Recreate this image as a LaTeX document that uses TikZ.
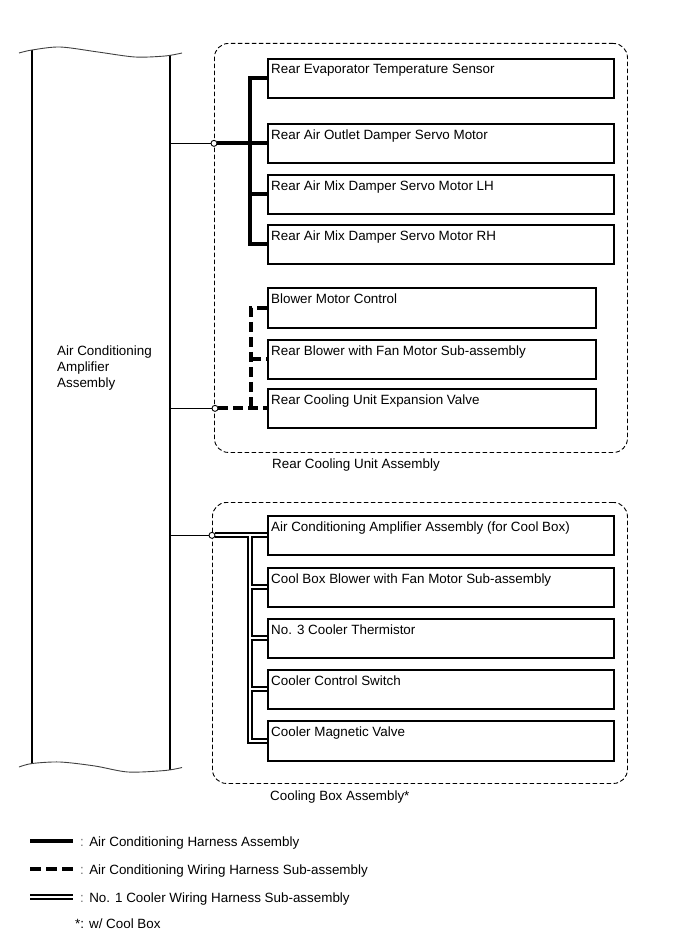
\documentclass[tikz,border=0pt]{standalone}
\usepackage{fontspec}
\setmainfont{Liberation Sans}
\usetikzlibrary{calc,backgrounds}
\begin{document}
\begin{tikzpicture}[x=1pt,y=-1pt,
  font=\fontsize{13.4}{16}\selectfont,
  devbox/.style={draw, line width=1.7pt, minimum width=#1, minimum height=39pt, anchor=north west, inner sep=0pt},
  devbox/.default=346,
  lbl/.style={anchor=base west, inner sep=0pt},
  jn/.style={circle, draw, fill=white, line width=0.9pt, inner sep=0pt, minimum size=6pt},
  harness/.style={line width=4pt},
  wiring/.style={line width=4pt, dash pattern=on 10pt off 5pt},
  coolerout/.style={line width=6pt},
  coolerin/.style={white, line width=2.2pt},
  thinline/.style={line width=0.9pt},
  grp/.style={draw, line width=0.9pt, dash pattern=on 4.5pt off 2.5pt, rounded corners=14pt},
  colline/.style={line width=1.3pt},
  wave/.style={line width=0.9pt, draw=black!75}
]
\useasboundingbox (0,0) rectangle (689,950);

% ---- Air conditioning amplifier column ----
\draw[colline] (32,50) -- (32,763);
\draw[colline] (170,55) -- (170,770);
\draw[wave] plot[smooth] coordinates {(19,53) (32,50) (60,47) (98,52) (135,57) (165,56) (182,53)};
\draw[wave] plot[smooth] coordinates {(19,767) (32,763.5) (60,762) (95,766) (128,772) (165,770.5) (182,767.5)};
\node[anchor=base west, inner sep=0pt, align=left] (amp) at (57,387) {Air Conditioning\\Amplifier\\Assembly};

% ---- group frames ----
\node[grp, anchor=north west, minimum width=413, minimum height=409, inner sep=0pt] (rcu) at (214,43) {};
\node[lbl] (rcut) at (272,468) {Rear Cooling Unit Assembly};
\node[grp, anchor=north west, minimum width=415, minimum height=281, inner sep=0pt] (cba) at (212,502) {};
\node[lbl] (cbat) at (270,800) {Cooling Box Assembly*};

% ---- group 1 boxes ----
\node[devbox] (r1) at (267,58) {};
\node[devbox] (r2) at (267,123) {};
\node[devbox] (r3) at (267,174) {};
\node[devbox] (r4) at (267,224) {};
\node[lbl] (r1t) at ($(r1.north west)+(4,16)$) {Rear Evaporator Temperature Sensor};
\node[lbl] (r2t) at ($(r2.north west)+(4,16)$) {Rear Air Outlet Damper Servo Motor};
\node[lbl] (r3t) at ($(r3.north west)+(4,16)$) {Rear Air Mix Damper Servo Motor LH};
\node[lbl] (r4t) at ($(r4.north west)+(4,16)$) {Rear Air Mix Damper Servo Motor RH};

% ---- group 2 boxes ----
\node[devbox=328, minimum height=40pt] (e1) at (267,287) {};
\node[devbox=328, minimum height=39pt] (e2) at (267,339) {};
\node[devbox=328, minimum height=39pt] (e3) at (267,388) {};
\node[lbl] (e1t) at ($(e1.north west)+(4,16)$) {Blower Motor Control};
\node[lbl] (e2t) at ($(e2.north west)+(4,16)$) {Rear Blower with Fan Motor Sub-assembly};
\node[lbl] (e3t) at ($(e3.north west)+(4,16)$) {Rear Cooling Unit Expansion Valve};

% ---- group 3 boxes ----
\node[devbox] (c1) at (267,515) {};
\node[devbox] (c2) at (267,567) {};
\node[devbox] (c3) at (267,618) {};
\node[devbox] (c4) at (267,669) {};
\node[devbox, minimum height=40pt] (c5) at (267,720) {};
\node[lbl] (c1t) at ($(c1.north west)+(4,16)$) {Air Conditioning Amplifier Assembly (for Cool Box)};
\node[lbl] (c2t) at ($(c2.north west)+(4,16)$) {Cool Box Blower with Fan Motor Sub-assembly};
\node[lbl] (c3t) at ($(c3.north west)+(4,16)$) {No. 3 Cooler Thermistor};
\node[lbl] (c4t) at ($(c4.north west)+(4,16)$) {Cooler Control Switch};
\node[lbl] (c5t) at ($(c5.north west)+(4,16)$) {Cooler Magnetic Valve};

% ---- junctions ----
\coordinate (x1) at (214,0);
\coordinate (x2) at (215,0);
\coordinate (x3) at (212,0);
\coordinate (col) at (170,0);
\coordinate (v1) at (250,0);
\coordinate (v2) at (251,0);
\coordinate (v3) at (250,0);
\node[jn] (j1) at (r2.west -| x1) {};
\node[jn] (j2) at (e3.west -| x2) {};
\node[jn] (j3) at (c1.west -| x3) {};
\coordinate (k1) at (j1 -| col);
\coordinate (k2) at (j2 -| col);
\coordinate (k3) at (j3 -| col);

% ---- legend ----
\coordinate (la1) at (30,841);  \coordinate (lb1) at (73,841);
\coordinate (la2) at (30,869);  \coordinate (lb2) at (73,869);
\coordinate (la3) at (30,897);  \coordinate (lb3) at (73,897);
\node[lbl] (lt1) at (80,846) {{\color{black!55}:}\hspace{0.4em}Air Conditioning Harness Assembly};
\node[lbl] (lt2) at (80,874) {{\color{black!55}:}\hspace{0.4em}Air Conditioning Wiring Harness Sub-assembly};
\node[lbl] (lt3) at (80,902) {{\color{black!55}:}\hspace{0.4em}No. 1 Cooler Wiring Harness Sub-assembly};
\node[lbl] (lt4) at (75,928) {*: w/ Cool Box};

\begin{pgfonlayer}{background}
  % thin links from column
  \draw[thinline] (k1) -- (j1);
  \draw[thinline] (k2) -- (j2);
  \draw[thinline] (k3) -- (j3);
  % group 1 harness
  \draw[harness] (r1.west) -| (v1 |- r4.west) -- (r4.west);
  \draw[harness] (v1 |- r3.west) -- (r3.west);
  \draw[harness] (j1) -- (r2.west);
  % group 2 wiring
  \draw[wiring] (e1.west) -| (v2 |- e3.west);
  \draw[wiring] (v2 |- e2.west) -- (e2.west);
  \draw[wiring] (j2) -- (e3.west);
  % group 3 cooler double line
  \foreach \s in {coolerout, coolerin} {
    \draw[\s] (j3) -- (c1.west);
    \draw[\s] (v3 |- c1.west) |- (c5.west);
    \draw[\s] (v3 |- c2.west) -- (c2.west);
    \draw[\s] (v3 |- c3.west) -- (c3.west);
    \draw[\s] (v3 |- c4.west) -- (c4.west);
  }
  % legend lines
  \draw[harness] (la1) -- (lb1);
  \draw[wiring, dash pattern=on 11pt off 5pt] (la2) -- (lb2);
  \draw[coolerout] (la3) -- (lb3);
  \draw[coolerin] (la3) -- (lb3);
\end{pgfonlayer}
\end{tikzpicture}
\end{document}
